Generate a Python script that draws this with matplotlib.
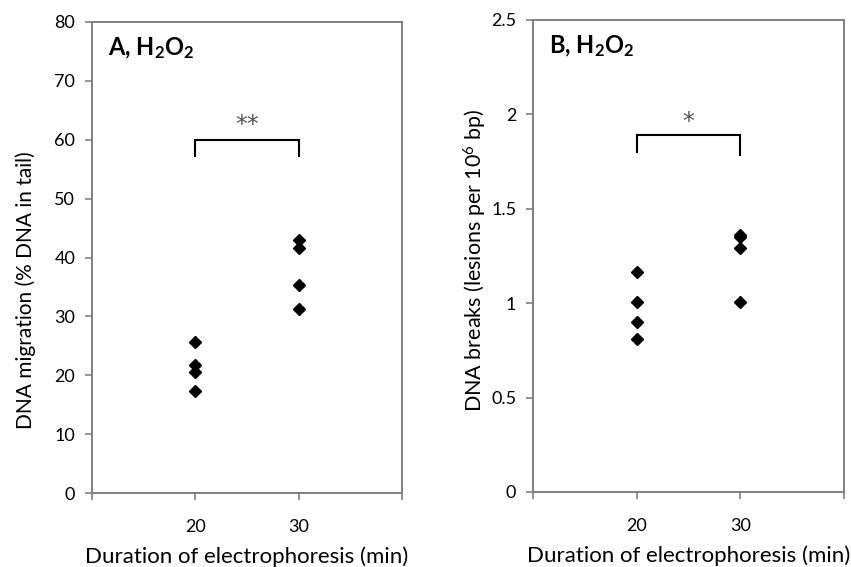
import matplotlib
matplotlib.use("Agg")
import matplotlib.pyplot as plt

# values
durations = [20, 30]
migration_20 = [25.7, 21.8, 20.6, 17.4]
migration_30 = [43.0, 41.6, 35.3, 31.2]
breaks_20 = [1.165, 1.005, 0.90, 0.81]
breaks_30 = [1.36, 1.35, 1.29, 1.005]

x_ticks = [10, 20, 30, 40]
x_ticklabels = ["", "20", "30", ""]
a_yticks = [0, 10, 20, 30, 40, 50, 60, 70, 80]
b_yticks = [0, 0.5, 1, 1.5, 2, 2.5]
b_yticklabels = ["0", "0.5", "1", "1.5", "2", "2.5"]

plt.rcParams["font.family"] = ["Lato", "DejaVu Sans"]
plt.rcParams["mathtext.default"] = "regular"

GRAY = "#7f7f7f"


def style_axes(ax):
    for s in ax.spines.values():
        s.set_color(GRAY)
        s.set_linewidth(1.4)
    ax.tick_params(axis="both", colors=GRAY, labelcolor="black", direction="out",
                   length=5, width=1.2, labelsize=13)
    ax.tick_params(axis="y", pad=7)
    ax.tick_params(axis="x", pad=14)
    ax.set_xlim(10, 40)
    ax.set_xticks(x_ticks)
    ax.set_xticklabels(x_ticklabels)
    ax.set_xlabel("Duration of electrophoresis (min)", fontsize=16, labelpad=8)


def bracket(ax, x0, x1, y, y_left, y_right, stars, star_y):
    ax.plot([x0, x0, x1, x1], [y_left, y, y, y_right], color="black", lw=1.5,
            solid_joinstyle="miter")
    ax.text((x0 + x1) / 2, star_y, stars, ha="center", va="center", fontsize=17,
            color="#555555", family="DejaVu Sans")


fig = plt.figure(figsize=(8.51, 5.67), dpi=100)

# panel A
ax1 = fig.add_axes([0.1081, 0.1305, 0.3643, 0.8307])
ax1.plot([durations[0]] * len(migration_20), migration_20, "D", color="black", ms=6.5, ls="none")
ax1.plot([durations[1]] * len(migration_30), migration_30, "D", color="black", ms=6.5, ls="none")
ax1.set_ylim(0, 80)
ax1.set_yticks(a_yticks)
style_axes(ax1)
ax1.set_ylabel("DNA migration (% DNA in tail)", fontsize=15)
ax1.yaxis.set_label_coords(-0.18, 0.43)
ax1.text(0.053, 0.945, "A, H$_2$O$_2$", transform=ax1.transAxes, fontsize=17,
         fontweight="bold", va="center", ha="left")
bracket(ax1, 20, 30, 60, 57.3, 57.3, "**", 62.5)

# panel B
ax2 = fig.add_axes([0.6263, 0.1323, 0.3655, 0.8325])
ax2.plot([durations[0]] * len(breaks_20), breaks_20, "D", color="black", ms=6.5, ls="none")
ax2.plot([durations[1]] * len(breaks_30), breaks_30, "D", color="black", ms=6.5, ls="none")
ax2.set_ylim(0, 2.5)
ax2.set_yticks(b_yticks)
ax2.set_yticklabels(b_yticklabels)
style_axes(ax2)
ax2.set_ylabel("DNA breaks (lesions per 10$^6$ bp)", fontsize=15.5)
ax2.yaxis.set_label_coords(-0.14, 0.49)
ax2.text(0.053, 0.945, "B, H$_2$O$_2$", transform=ax2.transAxes, fontsize=17,
         fontweight="bold", va="center", ha="left")
bracket(ax2, 20, 30, 1.89, 1.80, 1.785, "*", 1.96)

fig.savefig("out.png", dpi=100)
